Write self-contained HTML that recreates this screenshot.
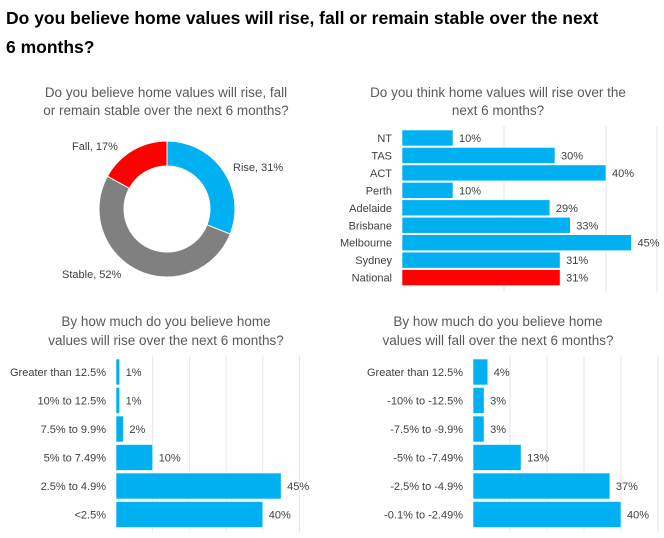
<!DOCTYPE html>
<html><head><meta charset="utf-8"><style>
body{margin:0;background:#fff;font-family:"Liberation Sans",sans-serif;}
#wrap{position:relative;width:664px;height:538px;overflow:hidden;}
#title{position:absolute;left:6px;top:4px;width:600px;font-weight:bold;font-size:17.5px;line-height:29px;color:#000;}
svg{position:absolute;left:0;top:0;}
</style></head><body>
<div id="wrap">
<div id="title">Do you believe home values will rise, fall or remain stable over the next 6 months?</div>
<svg id="svg" width="664" height="538"></svg>
</div>
<script>
const donutLabels=["Rise","Stable","Fall"];
const donutValues=[31,52,17];
const stateCats=["NT","TAS","ACT","Perth","Adelaide","Brisbane","Melbourne","Sydney","National"];
const stateValues=[10,30,40,10,29,33,45,31,31];
const riseCats=["Greater than 12.5%","10% to 12.5%","7.5% to 9.9%","5% to 7.49%","2.5% to 4.9%","<2.5%"];
const riseValues=[1,1,2,10,45,40];
const fallCats=["Greater than 12.5%","-10% to -12.5%","-7.5% to -9.9%","-5% to -7.49%","-2.5% to -4.9%","-0.1% to -2.49%"];
const fallValues=[4,3,3,13,37,40];

const NS="http://www.w3.org/2000/svg";
const svg=document.getElementById('svg');
function mk(t,a,p){const e=document.createElementNS(NS,t);for(const k in a)e.setAttribute(k,a[k]);(p||svg).appendChild(e);return e;}
function txt(x,y,s,anchor,size,fill,name){const e=mk('text',{x:x,y:y,'text-anchor':anchor,'font-size':size,fill:fill,'font-family':'Liberation Sans, sans-serif'});e.textContent=s;


return e;}

[[166,97,"Do you believe home values will rise, fall"],[166,115,"or remain stable over the next 6 months?"],
 [498,97,"Do you think home values will rise over the"],[498,115,"next 6 months?"],
 [166,326,"By how much do you believe home"],[166,345,"values will rise over the next 6 months?"],
 [498,326,"By how much do you believe home"],[498,345,"values will fall over the next 6 months?"]].forEach(s=>txt(s[0],s[1],s[2],'middle',13.5,'#595959','chart-subtitle'));

const cx=167,cy=209,R=68,r=43;
const dcol=["#00b0f0","#808080","#ff0000"];
const total=donutValues.reduce((a,b)=>a+b,0);
let ang=0;
donutValues.forEach((v,i)=>{
 const a0=ang/total*2*Math.PI, a1=(ang+v)/total*2*Math.PI; ang+=v;
 const p=(a,rr)=>[cx+rr*Math.sin(a),cy-rr*Math.cos(a)];
 const large=(a1-a0)>Math.PI?1:0;
 const [x0,y0]=p(a0,R),[x1,y1]=p(a1,R),[x2,y2]=p(a1,r),[x3,y3]=p(a0,r);
 const e=mk('path',{d:`M${x0},${y0}A${R},${R} 0 ${large} 1 ${x1},${y1}L${x2},${y2}A${r},${r} 0 ${large} 0 ${x3},${y3}Z`,fill:dcol[i],stroke:'#fff','stroke-width':1});
 
 
});
const dl=[[233,171,'start'],[62,278,'start'],[72,150,'start']];
donutLabels.forEach((l,i)=>txt(dl[i][0],dl[i][1],l+", "+donutValues[i]+"%",dl[i][2],11,'#404040','donut-label'));

function barChart(cats,vals,x0,unitPx,y0,pitch,bh,grids,gridTop,gridBot,labelX,name,colors){
 grids.forEach(g=>{const e=mk('line',{x1:x0+g*unitPx,x2:x0+g*unitPx,y1:gridTop,y2:gridBot,stroke:'#e6e6e6','stroke-width':1});
  
  });
 cats.forEach((c,i)=>{
  const y=y0+i*pitch, w=vals[i]*unitPx;
  const b=mk('rect',{x:x0,y:y,width:w,height:bh,fill:colors?colors(i):'#00b0f0',stroke:'#fff','stroke-width':0.6});
  
  
  txt(labelX,y+bh/2+4,c,'end',11,'#404040',name+'-category-label');
  txt(x0+w+6,y+bh/2+4,vals[i]+'%','start',11,'#404040',name+'-value-label');
 });
}
barChart(stateCats,stateValues,402,102/20,130,17.45,16,[20,40,50],126,292,392,'state',i=>i===stateCats.length-1?'#ff0000':'#00b0f0');
barChart(riseCats,riseValues,116,3.67,359,28.5,26,[10,20,30,40,50],356,532,106,'rise');
barChart(fallCats,fallValues,473,3.7,359,28.5,26,[10,20,30,40,50],356,532,463,'fall');
</script>
</body></html>
